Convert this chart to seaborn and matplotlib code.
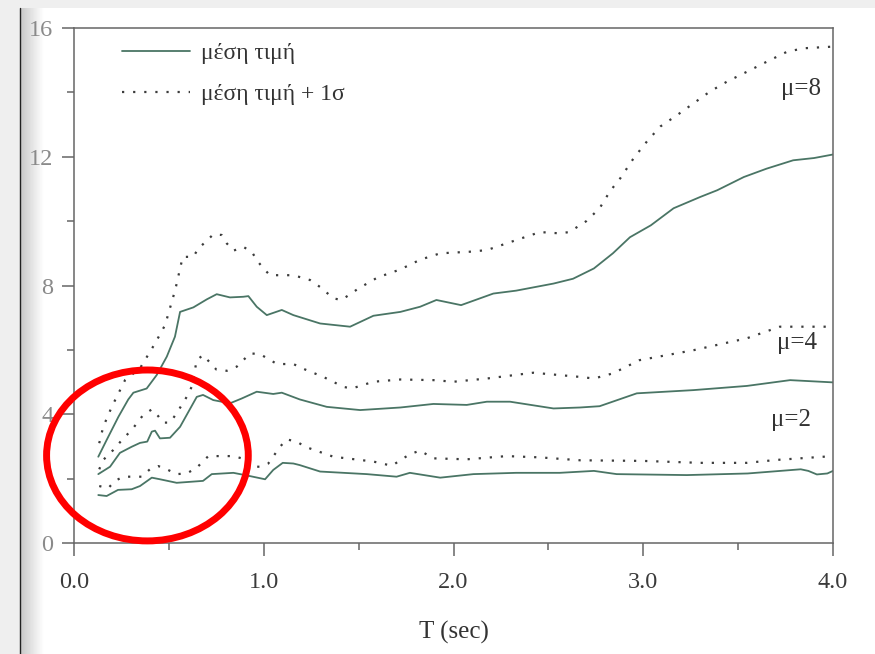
import numpy as np
import pandas as pd
import matplotlib
matplotlib.use("Agg")
import matplotlib.pyplot as plt
from matplotlib.patches import Ellipse, Rectangle
import seaborn as sns

# ---- data: T (sec) and ordinate values ----
t_mu2_mean = [0.128, 0.172, 0.232, 0.304, 0.348, 0.41, 0.453, 0.541, 0.68, 0.726, 0.84, 0.91,
              1.007, 1.05, 1.10, 1.156, 1.19, 1.297, 1.543, 1.70, 1.77, 1.93, 2.105, 2.33,
              2.56, 2.74, 2.86, 3.23, 3.55, 3.83, 3.87, 3.915, 3.97, 4.0]
v_mu2_mean = [1.49, 1.46, 1.65, 1.67, 1.77, 2.03, 1.98, 1.87, 1.93, 2.14, 2.18, 2.10,
              1.98, 2.27, 2.49, 2.47, 2.42, 2.22, 2.14, 2.06, 2.18, 2.03, 2.14, 2.18,
              2.18, 2.24, 2.14, 2.11, 2.16, 2.29, 2.24, 2.13, 2.16, 2.24]

t_mu2_sig = [0.133, 0.18, 0.216, 0.26, 0.357, 0.40, 0.444, 0.489, 0.541, 0.594, 0.647, 0.708,
             0.84, 0.884, 0.928, 0.98, 1.024, 1.086, 1.12, 1.174, 1.218, 1.367, 1.578, 1.675,
             1.77, 1.824, 1.894, 2.07, 2.28, 2.456, 2.667, 3.0, 3.30, 3.546, 3.70, 4.0]
v_mu2_sig = [1.77, 1.70, 1.93, 2.06, 2.06, 2.29, 2.39, 2.29, 2.14, 2.16, 2.34, 2.70,
             2.70, 2.63, 2.37, 2.37, 2.47, 2.99, 3.22, 3.15, 2.99, 2.68, 2.53, 2.40,
             2.76, 2.87, 2.63, 2.60, 2.70, 2.66, 2.57, 2.55, 2.49, 2.49, 2.58, 2.70]

t_mu4_mean = [0.128, 0.19, 0.242, 0.304, 0.348, 0.386, 0.41, 0.427, 0.453, 0.506, 0.559, 0.647,
              0.68, 0.734, 0.822, 0.884, 0.963, 1.05, 1.095, 1.19, 1.332, 1.508, 1.72, 1.894,
              2.07, 2.176, 2.298, 2.527, 2.667, 2.77, 2.966, 3.265, 3.546, 3.774, 4.0]
v_mu4_mean = [2.14, 2.37, 2.80, 2.99, 3.11, 3.15, 3.46, 3.49, 3.25, 3.27, 3.61, 4.54,
              4.60, 4.44, 4.34, 4.49, 4.70, 4.63, 4.67, 4.46, 4.23, 4.13, 4.21, 4.32,
              4.29, 4.39, 4.39, 4.18, 4.21, 4.25, 4.65, 4.75, 4.88, 5.06, 4.99]

t_mu4_sig = [0.133, 0.154, 0.207, 0.26, 0.304, 0.365, 0.41, 0.444, 0.468, 0.506, 0.541, 0.594,
             0.62, 0.647, 0.68, 0.75, 0.805, 0.858, 0.928, 0.98, 1.07, 1.156, 1.218, 1.314,
             1.42, 1.464, 1.578, 1.72, 1.894, 2.0, 2.176, 2.42, 2.667, 2.74, 2.84, 2.98,
             3.265, 3.546, 3.72, 3.985]
v_mu4_sig = [2.29, 2.58, 2.89, 3.25, 3.51, 3.98, 4.15, 3.94, 3.74, 3.74, 4.03, 4.54,
             4.85, 5.68, 5.84, 5.39, 5.35, 5.48, 5.89, 5.87, 5.56, 5.56, 5.39, 5.16,
             4.85, 4.80, 5.01, 5.08, 5.06, 5.01, 5.11, 5.29, 5.16, 5.11, 5.27, 5.68,
             5.99, 6.36, 6.72, 6.72]

t_mu8_mean = [0.128, 0.172, 0.234, 0.286, 0.313, 0.383, 0.436, 0.489, 0.532, 0.559, 0.629, 0.70,
              0.752, 0.822, 0.892, 0.919, 0.963, 1.016, 1.095, 1.156, 1.297, 1.455, 1.578, 1.72,
              1.824, 1.91, 2.04, 2.21, 2.33, 2.527, 2.63, 2.74, 2.84, 2.93, 3.04, 3.16,
              3.30, 3.39, 3.53, 3.65, 3.79, 3.90, 4.0]
v_mu8_mean = [2.68, 3.20, 3.92, 4.46, 4.67, 4.80, 5.22, 5.79, 6.41, 7.18, 7.32, 7.57,
              7.73, 7.63, 7.65, 7.67, 7.34, 7.08, 7.24, 7.08, 6.82, 6.72, 7.06, 7.18,
              7.34, 7.55, 7.39, 7.75, 7.84, 8.06, 8.21, 8.53, 9.0, 9.5, 9.87, 10.4,
              10.75, 10.96, 11.37, 11.63, 11.89, 11.96, 12.07]

t_mu8_sig = [0.133, 0.154, 0.199, 0.269, 0.348, 0.427, 0.48, 0.523, 0.538, 0.573, 0.629, 0.655,
             0.70, 0.734, 0.778, 0.805, 0.84, 0.892, 0.937, 0.963, 0.998, 1.033, 1.156, 1.244,
             1.30, 1.367, 1.41, 1.50, 1.60, 1.72, 1.824, 1.93, 2.087, 2.176, 2.35, 2.456,
             2.56, 2.61, 2.70, 2.77, 2.825, 2.88, 2.95, 3.02, 3.09, 3.18, 3.265, 3.35,
             3.44, 3.546, 3.65, 3.757, 3.845, 3.995]
v_mu8_sig = [3.10, 3.61, 4.23, 5.06, 5.43, 6.20, 6.77, 7.65, 7.98, 8.89, 8.89, 9.15,
             9.39, 9.59, 9.57, 9.31, 9.08, 9.20, 9.05, 8.79, 8.53, 8.32, 8.32, 8.17,
             7.94, 7.60, 7.55, 7.91, 8.25, 8.50, 8.80, 9.00, 9.05, 9.10, 9.45, 9.66,
             9.62, 9.66, 10.0, 10.4, 10.93, 11.34, 11.96, 12.48, 12.94, 13.3, 13.66, 14.02,
             14.33, 14.64, 14.95, 15.26, 15.37, 15.42]

curve_labels = ["μ=8", "μ=4", "μ=2"]
label_pos_t = [3.83, 3.81, 3.78]
label_pos_v = [14.1, 6.2, 3.82]
legend_labels = ["μέση τιμή", "μέση τιμή + 1σ"]

x_ticks = [0.0, 1.0, 2.0, 3.0, 4.0]
x_ticklabels = ["0.0", "1.0", "2.0", "3.0", "4.0"]
y_ticks = [0, 4, 8, 12, 16]

mean_curves = [(t_mu8_mean, v_mu8_mean), (t_mu4_mean, v_mu4_mean), (t_mu2_mean, v_mu2_mean)]
sig_curves = [(t_mu8_sig, v_mu8_sig), (t_mu4_sig, v_mu4_sig), (t_mu2_sig, v_mu2_sig)]

sns.set_style("ticks")
plt.rcParams["font.family"] = ["Liberation Serif", "DejaVu Serif"]

fig = plt.figure(figsize=(8.75, 6.54), dpi=100)
fig.patch.set_facecolor("#efefef")

# page (scanned sheet) with shaded binding at left
fig.patches.append(Rectangle((20 / 875, 0), 1, 646 / 654, transform=fig.transFigure,
                             facecolor="white", edgecolor="none", zorder=-3))
grad = fig.add_axes([20 / 875, 0, 24 / 875, 646 / 654], zorder=-2)
shade = np.linspace(0.70, 1.0, 64) ** 0.7
grad.imshow(np.tile(shade, (2, 1)), cmap="gray", vmin=0, vmax=1, aspect="auto")
grad.axis("off")
fig.add_artist(plt.Line2D([20 / 875, 20 / 875], [0, 646 / 654], color="#222222", lw=1.0,
                          transform=fig.transFigure))

ax = fig.add_axes([74 / 875, 1 - 543 / 654, (833 - 74) / 875, (543 - 28) / 654])
ax.set_facecolor("none")

solid_color = "#4a7565"
dot_color = "#3c3c3c"
for i, (t, v) in enumerate(mean_curves):
    sns.lineplot(x=t, y=v, ax=ax, color=solid_color, lw=1.3, sort=False,
                 label=legend_labels[0] if i == 0 else None)
for i, (t, v) in enumerate(sig_curves):
    sns.lineplot(x=t, y=v, ax=ax, color=dot_color, lw=1.6, sort=False,
                 linestyle=(0, (1, 4)),
                 label=legend_labels[1] if i == 0 else None)

for lab, tx, vy in zip(curve_labels, label_pos_t, label_pos_v):
    ax.text(tx, vy, lab, ha="center", va="center", fontsize=18, color="#333333")

ax.set_xlim(0, 4.0)
ax.set_ylim(0, 16)
ax.set_xticks(x_ticks)
ax.set_xticklabels(x_ticklabels)
ax.set_yticks(y_ticks)
ax.set_xticks([0.5, 1.5, 2.5, 3.5], minor=True)
ax.set_yticks([2, 6, 10, 14], minor=True)
ax.tick_params(axis="both", which="major", length=9, width=1.1, color="#666666", labelsize=17.5)
ax.tick_params(axis="both", which="minor", length=5, width=1.1, color="#666666")
ax.tick_params(axis="x", pad=12, labelcolor="#3a3a3a")
ax.tick_params(axis="y", pad=6, labelcolor="#8a8a8a")
for sp in ax.spines.values():
    sp.set_visible(True)
    sp.set_color("#666666")
    sp.set_linewidth(1.1)

ax.set_xlabel("T (sec)", fontsize=18, color="#333333", labelpad=20)
ax.set_ylabel("")

leg = ax.legend(loc="upper left", bbox_to_anchor=(0.063, 0.972), frameon=False,
                fontsize=17, handlelength=2.9, handletextpad=0.45, labelspacing=0.82,
                borderpad=0, borderaxespad=0)
for txt in leg.get_texts():
    txt.set_color("#333333")

# red hand-drawn style circle around the short-period region
ax.add_patch(Ellipse((0.387, 2.72), 1.063, 5.31, fill=False, edgecolor="#ff0000",
                     lw=5, clip_on=False, zorder=5))

fig.savefig("out.png", dpi=100, facecolor=fig.get_facecolor())
